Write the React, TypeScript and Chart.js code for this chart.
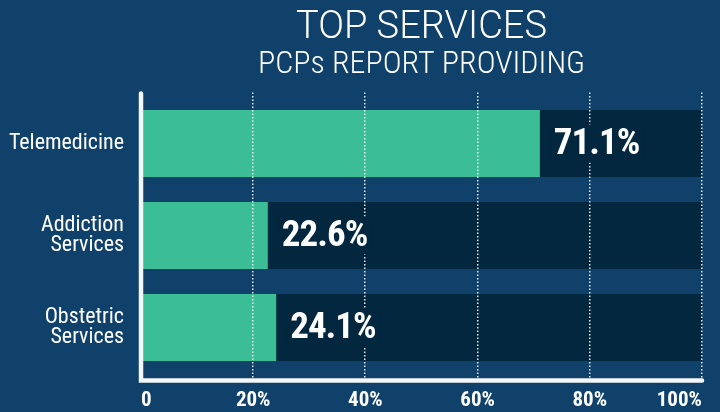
import React, { useEffect, useRef } from "react";
import { Chart, registerables } from "chart.js";

Chart.register(...registerables);

const categories: (string | string[])[] = ["Telemedicine", ["Addiction", "Services"], ["Obstetric", "Services"]];
const values = [71.1, 22.6, 24.1];
const trackValues = [100, 100, 100];
const tickValues = [0, 20, 40, 60, 80, 100];
const titleText = "TOP SERVICES";
const subtitleText = "PCPs REPORT PROVIDING";

const BG = "#0f416a";
const DARK = "#03273e";
const GREEN = "#3bbd95";
const WHITE = "#f4f6f8";
const COND = "'Roboto Condensed', Roboto, sans-serif";

const overlayPlugin = {
  id: "overlay",
  afterDatasetsDraw(chart: any) {
    const ctx = chart.ctx as CanvasRenderingContext2D;
    const xs = chart.scales.x;
    const area = chart.chartArea;
    // dotted gridlines over bars
    ctx.save();
    ctx.strokeStyle = "rgba(255,255,255,0.9)";
    ctx.lineWidth = 1.5;
    ctx.setLineDash([1.5, 2]);
    tickValues.forEach((v) => {
      if (v === 0) return;
      const x = Math.round(xs.getPixelForValue(v)) - 0.25;
      ctx.beginPath();
      ctx.moveTo(x, area.top - 5);
      ctx.lineTo(x, area.bottom + 5);
      ctx.stroke();
    });
    ctx.restore();

    // value labels
    const meta = chart.getDatasetMeta(1);
    ctx.save();
    ctx.font = `bold 37px ${COND}`;
    (ctx as any).letterSpacing = "-1px";
    ctx.textBaseline = "middle";
    ctx.textAlign = "left";
    meta.data.forEach((bar: any, i: number) => {
      const text = values[i].toFixed(1) + "%";
      const tx = bar.x + 14;
      const w = ctx.measureText(text).width;
      ctx.fillStyle = DARK;
      ctx.fillRect(tx - 4, bar.y - 19, w + 8, 38);
      ctx.fillStyle = "#ffffff";
      ctx.fillText(text, tx, bar.y + 1);
    });
    ctx.restore();

    // axis lines
    ctx.save();
    ctx.strokeStyle = WHITE;
    ctx.lineWidth = 4.5;
    ctx.lineCap = "round";
    ctx.lineJoin = "miter";
    const x0 = xs.getPixelForValue(0);
    const x1 = xs.getPixelForValue(100);
    ctx.beginPath();
    ctx.moveTo(x0, area.top - 4);
    ctx.lineTo(x0, area.bottom + 7);
    ctx.lineTo(x1, area.bottom + 7);
    ctx.stroke();
    ctx.restore();
  },
  afterDraw(chart: any) {
    const ctx = chart.ctx as CanvasRenderingContext2D;
    const area = chart.chartArea;
    const cx = (area.left + area.right) / 2;
    ctx.save();
    ctx.fillStyle = "#ffffff";
    ctx.textAlign = "center";
    ctx.textBaseline = "alphabetic";
    ctx.font = "300 38px Roboto, sans-serif";
    ctx.fillText(titleText, cx, 38);
    ctx.font = `300 32px ${COND}`;
    ctx.fillText(subtitleText, cx, 73);
    ctx.restore();
  },
};

export default function App() {
  const ref = useRef<HTMLCanvasElement | null>(null);
  useEffect(() => {
    if (!ref.current) return;
    const chart = new Chart(ref.current, {
      type: "bar",
      data: {
        labels: categories as any,
        datasets: [
          {
            data: trackValues,
            backgroundColor: DARK,
            order: 2,
          } as any,
          {
            data: values,
            backgroundColor: GREEN,
            order: 1,
          } as any,
        ],
      },
      options: {
        responsive: false,
        animation: false,
        indexAxis: "y",
        layout: { padding: { top: 97.5, right: 18, left: 0, bottom: 0 } },
        datasets: {
          bar: {
            grouped: false,
            categoryPercentage: 1,
            barPercentage: 0.728,
            borderWidth: 0,
          },
        } as any,
        plugins: {
          legend: { display: false },
          tooltip: { enabled: false },
          title: { display: false },
        },
        scales: {
          x: {
            type: "linear",
            min: 0,
            max: 100,
            afterFit: (s: any) => {
              s.height = 38.5;
            },
            afterBuildTicks: (s: any) => {
              s.ticks = tickValues.map((v) => ({ value: v }));
            },
            grid: { display: false, drawTicks: false },
            border: { display: false },
            ticks: {
              align: "inner",
              padding: 15,
              color: "#ffffff",
              font: { family: COND, weight: "bold", size: 21 },
              callback: (v: any) => (v === 0 ? "0" : v + "%"),
            },
          },
          y: {
            type: "category",
            afterFit: (s: any) => {
              s.width = 141;
            },
            grid: { display: false, drawTicks: false },
            border: { display: false },
            ticks: {
              padding: 17,
              color: "#ffffff",
              font: { family: COND, size: 22, lineHeight: 0.9 },
            },
          },
        },
      },
      plugins: [overlayPlugin],
    });
    return () => chart.destroy();
  }, []);
  return (
    <div style={{ position: "absolute", left: 0, top: 0, width: 720, height: 412, background: BG }}>
      <canvas ref={ref} width={720} height={412} style={{ display: "block" }} />
    </div>
  );
}
